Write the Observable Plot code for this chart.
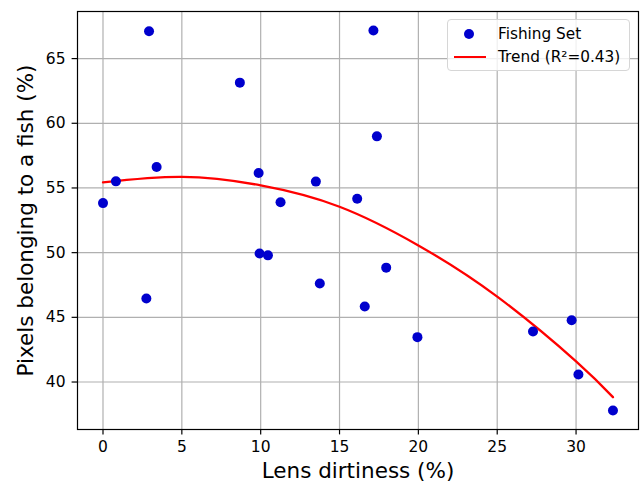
<!DOCTYPE html>
<html>
<head>
<meta charset="utf-8">
<script src="https://cdn.jsdelivr.net/npm/d3@7"></script>
<script src="https://cdn.jsdelivr.net/npm/@observablehq/plot@0.6"></script>
<style>
html, body { margin: 0; padding: 0; background: #fff; }
#wrap { position: relative; width: 642px; height: 484px; font-family: "DejaVu Sans", sans-serif; }
#wrap svg { display: block; }
.legend { position: absolute; left: 447px; top: 19px; width: 183px; height: 52px; box-sizing: border-box;
  border: 1px solid #d6d6d6; border-radius: 4px; background: rgba(255,255,255,0.8); font-size: 15.3px; color: #000; }
.legend .row { position: absolute; left: 0; height: 18px; line-height: 18px; white-space: nowrap; }
.legend .lbl { position: absolute; left: 50px; top: 0; }
.legend .dot { position: absolute; left: 16px; top: 4px; width: 10px; height: 10px; border-radius: 50%; background: #0000cd; }
.legend .ln { position: absolute; left: 6px; top: 8px; width: 32px; height: 2.3px; background: #ff0000; }
</style>
</head>
<body>
<div id="wrap"></div>
<script>
const dirtiness = [0, 0.82, 2.92, 3.40, 2.75, 8.68, 9.87, 9.93, 10.46, 11.26, 13.50, 13.75, 16.12, 16.60, 17.15, 17.37, 17.96, 19.94, 27.27, 29.72, 30.15, 32.34];
const fishPixels = [53.83, 55.51, 67.11, 56.62, 46.46, 63.14, 56.15, 49.94, 49.79, 53.89, 55.49, 47.62, 54.17, 45.84, 67.17, 58.99, 48.84, 43.47, 43.91, 44.78, 40.58, 37.80];

// Trend curve
const trendX = [0, 5, 10, 15, 20, 25, 30, 32.34];
const trendY = [55.43, 55.85, 55.2, 53.55, 50.56, 46.6, 41.6, 38.83];

const xTicks = [0, 5, 10, 15, 20, 25, 30];
const yTicks = [40, 45, 50, 55, 60, 65];

const seriesName = "Fishing Set";
const trendName = "Trend (R²=0.43)";
const xTitle = "Lens dirtiness (%)";
const yTitle = "Pixels belonging to a fish (%)";

const points = dirtiness.map((d, i) => ({x: d, y: fishPixels[i]}));
const trend = trendX.map((d, i) => ({x: d, y: trendY[i]}));

const chart = Plot.plot({
  width: 642,
  height: 484,
  marginLeft: 77,
  marginRight: 4,
  marginTop: 11,
  marginBottom: 55,
  style: {fontFamily: "'DejaVu Sans', sans-serif", fontSize: "15px", color: "#000", background: "#fff"},
  x: {domain: [-1.617, 33.96]},
  y: {domain: [36.33, 68.64]},
  marks: [
    Plot.gridX(xTicks, {stroke: "#b0b0b0", strokeOpacity: 1, strokeWidth: 1.2}),
    Plot.gridY(yTicks, {stroke: "#b0b0b0", strokeOpacity: 1, strokeWidth: 1.2}),
    Plot.line(trend, {x: "x", y: "y", stroke: "#ff0000", strokeWidth: 2.3, curve: "natural"}),
    Plot.dot(points, {x: "x", y: "y", r: 5, fill: "#0000cd"}),
    Plot.frame({stroke: "#000", strokeWidth: 1.2}),
    Plot.axisX(xTicks, {tickSize: 5.4, tickPadding: 6.5, fontSize: 15.5, label: null, strokeWidth: 1.2}),
    Plot.axisY(yTicks, {tickSize: 5.4, tickPadding: 6.5, fontSize: 15.5, label: null, strokeWidth: 1.2}),
    Plot.text([xTitle], {text: d => d, frameAnchor: "bottom", textAnchor: "middle", dy: 48, fontSize: 21.5, fill: "#000"}),
    Plot.text([yTitle], {text: d => d, frameAnchor: "left", textAnchor: "middle", rotate: -90, dx: -51, fontSize: 21.5, fill: "#000"})
  ]
});

const wrap = document.getElementById("wrap");
wrap.appendChild(chart);

const legend = document.createElement("div");
legend.className = "legend";
legend.innerHTML =
  `<div class="row" style="top:4.5px;width:100%"><span class="dot"></span><span class="lbl">${seriesName}</span></div>` +
  `<div class="row" style="top:27.5px;width:100%"><span class="ln"></span><span class="lbl">${trendName}</span></div>`;
wrap.appendChild(legend);
</script>
</body>
</html>
